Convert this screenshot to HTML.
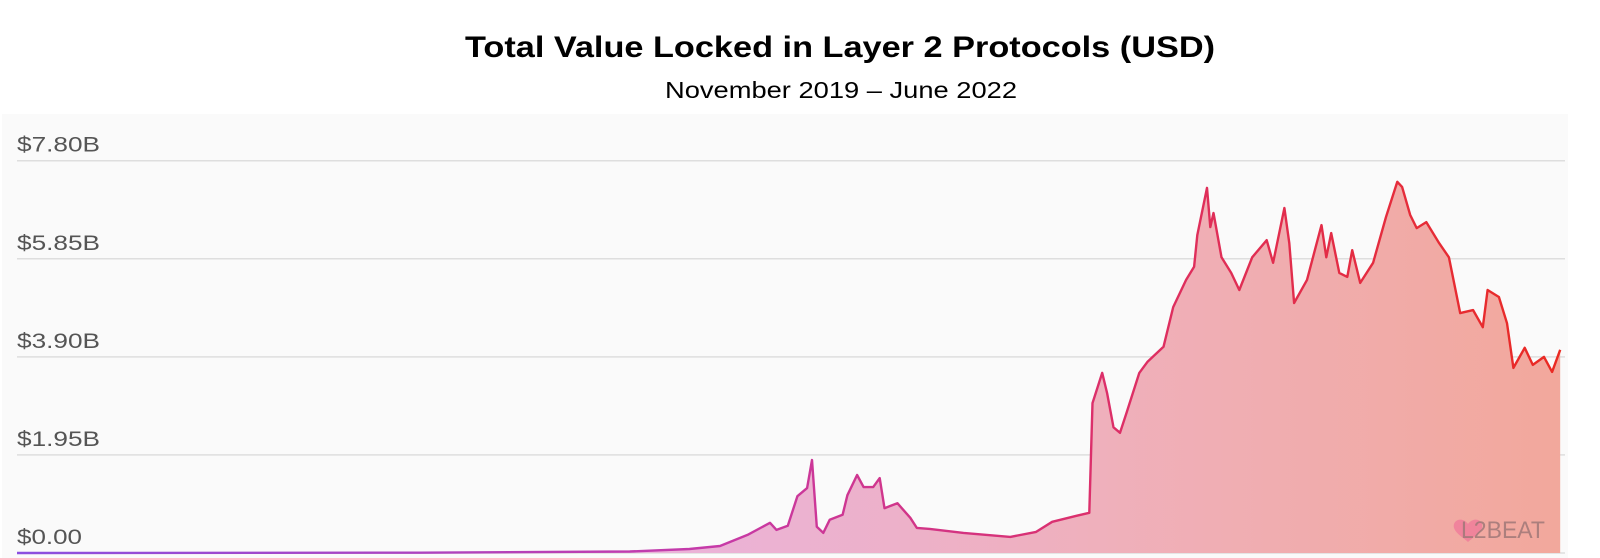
<!DOCTYPE html>
<html><head><meta charset="utf-8"><title>TVL Layer 2</title>
<style>html,body{margin:0;padding:0;background:#fff;}svg{display:block;font-family:"Liberation Sans",sans-serif;}</style>
</head><body>
<svg id="chart" width="1600" height="558" viewBox="0 0 1600 558" xmlns="http://www.w3.org/2000/svg">
<defs>
<linearGradient id="lineGrad" x1="0" x2="1" y1="0" y2="0">
<stop offset="0" stop-color="#8b4fe0"/><stop offset="0.45" stop-color="#c63aa8"/><stop offset="0.7" stop-color="#dc2f6a"/><stop offset="1" stop-color="#ea2a22"/>
</linearGradient>
<linearGradient id="fillGrad" x1="0" x2="1" y1="0" y2="0">
<stop offset="0" stop-color="#e2c2f0"/><stop offset="0.45" stop-color="#ebb2d6"/><stop offset="0.7" stop-color="#efb0bc"/><stop offset="1" stop-color="#f2a89c"/>
</linearGradient>
</defs>
<text x="840" y="57" text-anchor="middle" font-size="30" font-weight="bold" fill="#000" textLength="750" lengthAdjust="spacingAndGlyphs">Total Value Locked in Layer 2 Protocols (USD)</text>
<text x="841" y="98" text-anchor="middle" font-size="23" fill="#000" textLength="352" lengthAdjust="spacingAndGlyphs">November 2019 – June 2022</text>
<rect x="2" y="114" width="1566" height="444" fill="#fafafa"/>
<g id="grid"></g>
<g id="series"></g>
<g>
<path d="M1468 524 c-6 -8 -16 -4 -14 4 c2 6 10 10 14 14 c4 -4 12 -8 14 -14 c2 -8 -8 -12 -14 -4z" fill="#f07a9a" opacity="0.8"/>
<text x="1461" y="538" font-size="24" fill="#a07878" opacity="0.85" textLength="84" lengthAdjust="spacingAndGlyphs">L2BEAT</text>
</g>
</svg>
<script>
const days = [0,250,380,417,436,453,467,471,478,484,490,493,496,500,504,512,515,521,525,531,535,538,546,554,558,566,587,616,632,642,657,665,667,673,676,680,684,688,696,701,711,717,725,730,732,738,740,742,747,753,758,766,775,779,786,789,792,800,809,812,815,820,825,828,833,841,849,856,859,864,868,874,882,888,895,903,909,912,919,924,928,935,940,947,952,957];
const tvl = [0,0.005,0.03,0.08,0.14,0.36,0.6,0.46,0.54,1.13,1.29,1.85,0.52,0.4,0.66,0.76,1.15,1.55,1.31,1.31,1.49,0.89,0.99,0.7,0.5,0.48,0.4,0.32,0.42,0.62,0.74,0.8,2.98,3.58,3.18,2.5,2.39,2.78,3.58,3.8,4.1,4.89,5.43,5.69,6.32,7.26,6.48,6.76,5.88,5.57,5.23,5.88,6.22,5.77,6.86,6.16,4.97,5.43,6.52,5.88,6.36,5.57,5.49,6.02,5.37,5.77,6.68,7.38,7.28,6.72,6.46,6.58,6.16,5.88,4.77,4.83,4.49,5.23,5.09,4.57,3.68,4.08,3.74,3.9,3.6,4.04];
const yTicks = [0,1.95,3.9,5.85,7.8];
const yTickLabels = ["$0.00","$1.95B","$3.90B","$5.85B","$7.80B"];
const dayMax = 960;

const NS = "http://www.w3.org/2000/svg";
const X0 = 17, X1 = 1565, Y0 = 553, Y1 = 160.7;
function xScale(d){ return X0 + (d/dayMax)*(X1-X0); }
function yScale(v){ return Y0 - (v/7.8)*(Y0-Y1); }

const grid = document.getElementById('grid');
yTicks.forEach((t,i)=>{
  const y = yScale(t);
  const ln = document.createElementNS(NS,'line');
  
  
  ln.setAttribute('x1',X0); ln.setAttribute('x2',X1);
  ln.setAttribute('y1',y); ln.setAttribute('y2',y);
  ln.setAttribute('stroke','#dedede'); ln.setAttribute('stroke-width','1.5');
  grid.appendChild(ln);
  const tx = document.createElementNS(NS,'text');
  
  
  tx.setAttribute('x',X0); tx.setAttribute('y',y-9);
  tx.setAttribute('font-size','21'); tx.setAttribute('fill','#555');
  tx.setAttribute('textLength', yTickLabels[i].length===5 ? '65' : '83');
  tx.setAttribute('lengthAdjust','spacingAndGlyphs');
  tx.textContent = yTickLabels[i];
  grid.appendChild(tx);
});

const series = document.getElementById('series');
let d = '';
days.forEach((dd,i)=>{ d += (i?'L':'M') + xScale(dd).toFixed(1) + ' ' + yScale(tvl[i]).toFixed(1) + ' '; });
const area = document.createElementNS(NS,'path');


area.setAttribute('d', d + 'L' + xScale(days[days.length-1]).toFixed(1) + ' ' + Y0 + ' L' + xScale(days[0]) + ' ' + Y0 + ' Z');
area.setAttribute('fill','url(#fillGrad)');
series.appendChild(area);
const line = document.createElementNS(NS,'path');


line.setAttribute('d', d);
line.setAttribute('fill','none');
line.setAttribute('stroke','url(#lineGrad)');
line.setAttribute('stroke-width','2.4');
line.setAttribute('stroke-linejoin','round');
series.appendChild(line);
</script>
</body></html>
